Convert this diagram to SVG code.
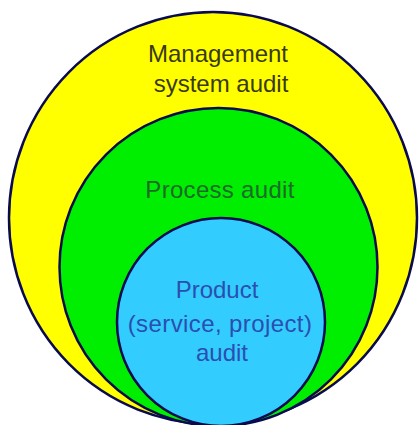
<svg xmlns="http://www.w3.org/2000/svg" width="419" height="425" viewBox="0 0 419 425">
<style>
.ring{stroke:#0a0a50;stroke-width:2.5}
text{font-family:"Liberation Sans",Arial,sans-serif;font-size:24px;text-anchor:middle}
.t1{fill:#3a3a10}
.t2{fill:#1e6a2a}
.t3{fill:#2a4fb0}
</style>
<rect width="419" height="425" fill="#ffffff"/>
<g id="management">
<ellipse class="ring" cx="213" cy="218" rx="204" ry="206" fill="#ffff00"/>
<text class="t1" x="218" y="62">Management</text>
<text class="t1" x="221" y="92">system audit</text>
</g>
<g id="process">
<circle class="ring" cx="218.5" cy="267" r="159" fill="#00ee00"/>
<text class="t2" x="220" y="198" letter-spacing="0.3">Process audit</text>
</g>
<g id="product">
<circle class="ring" cx="221" cy="322" r="104" fill="#33ccff"/>
<text class="t3" x="217" y="298">Product</text>
<text class="t3" x="220" y="332" letter-spacing="0.4">(service, project)</text>
<text class="t3" x="222" y="361">audit</text>
</g>
<g id="connectors"/>
</svg>
